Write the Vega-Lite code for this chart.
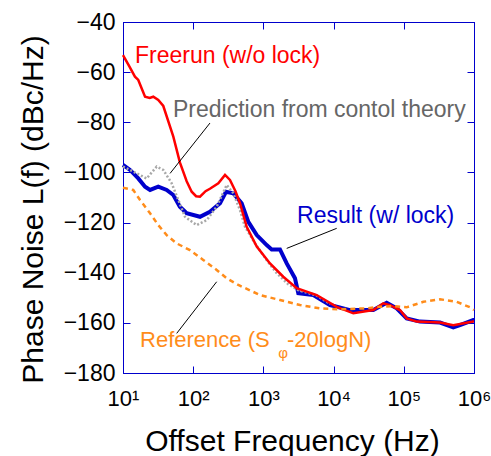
{
  "$schema": "https://vega.github.io/schema/vega-lite/v6.json",
  "width": 351,
  "height": 351,
  "autosize": {"type": "none"},
  "padding": {"left": 123, "top": 22, "right": 17, "bottom": 83},
  "background": "white",
  "config": {
    "font": "Liberation Sans",
    "view": {"stroke": "#0000cc", "strokeWidth": 1},
    "axis": {
      "grid": false,
      "domainColor": "#0000cc",
      "tickColor": "#0000cc",
      "labelColor": "black",
      "titleColor": "black",
      "labelFont": "Liberation Sans",
      "titleFont": "Liberation Sans",
      "titleFontWeight": "normal"
    }
  },
  "datasets": {
    "freerun": [
      {"f": 10, "pn": -53.2}, {"f": 12.2, "pn": -57.5}, {"f": 14.8, "pn": -61.8}, {"f": 16.5, "pn": -63.1},
      {"f": 20.6, "pn": -69.8}, {"f": 24, "pn": -70.3}, {"f": 27.0, "pn": -69.8}, {"f": 31.8, "pn": -71.1},
      {"f": 37.5, "pn": -73.5}, {"f": 52.1, "pn": -85.7}, {"f": 64.6, "pn": -96},
      {"f": 80.7, "pn": -103.5}, {"f": 95.1, "pn": -107.7}, {"f": 110, "pn": -109.5}, {"f": 125, "pn": -109.7},
      {"f": 150, "pn": -107.5}, {"f": 173, "pn": -106.5}, {"f": 228, "pn": -104.3}, {"f": 284, "pn": -101},
      {"f": 334, "pn": -103}, {"f": 400, "pn": -107.5}, {"f": 464, "pn": -112.3}, {"f": 578, "pn": -121.7},
      {"f": 804, "pn": -129.6}, {"f": 1242, "pn": -136.3}, {"f": 1919, "pn": -141.6},
      {"f": 2979, "pn": -146.2}, {"f": 5741, "pn": -148.9}, {"f": 11066, "pn": -153.6},
      {"f": 19099, "pn": -156.2}, {"f": 36813, "pn": -154.9}, {"f": 51050, "pn": -152.2},
      {"f": 63533, "pn": -152.9}, {"f": 88308, "pn": -154.9}, {"f": 109901, "pn": -158.2},
      {"f": 152757, "pn": -159.5}, {"f": 328095, "pn": -159.9}, {"f": 506991, "pn": -160.9},
      {"f": 977237, "pn": -159.5}, {"f": 1000000, "pn": -159.5}
    ],
    "result": [
      {"f": 10, "pn": -97}, {"f": 12.6, "pn": -99}, {"f": 16.5, "pn": -102.4}, {"f": 20.6, "pn": -105.7},
      {"f": 24.3, "pn": -107}, {"f": 31.8, "pn": -105.7}, {"f": 41.9, "pn": -107}, {"f": 52.1, "pn": -109},
      {"f": 64.6, "pn": -113.7}, {"f": 80.7, "pn": -116.3}, {"f": 125, "pn": -117.7}, {"f": 173, "pn": -115.7},
      {"f": 241, "pn": -112.3}, {"f": 293, "pn": -107.7}, {"f": 372, "pn": -108.3}, {"f": 490, "pn": -112.3},
      {"f": 610, "pn": -119.7}, {"f": 804, "pn": -125}, {"f": 1114, "pn": -129}, {"f": 1312, "pn": -130.7},
      {"f": 1722, "pn": -130.7}, {"f": 2148, "pn": -136.3}, {"f": 2818, "pn": -142.2}, {"f": 3141, "pn": -148.2},
      {"f": 5140, "pn": -148.9}, {"f": 8892, "pn": -152.9}, {"f": 17140, "pn": -154.9}, {"f": 36813, "pn": -154.9},
      {"f": 57016, "pn": -152}, {"f": 79250, "pn": -154.2}, {"f": 109901, "pn": -158.2}, {"f": 170216, "pn": -159.5},
      {"f": 328095, "pn": -159.9}, {"f": 506991, "pn": -161.8}, {"f": 630957, "pn": -160.9},
      {"f": 977237, "pn": -158.9}, {"f": 1000000, "pn": -158.9}
    ],
    "prediction": [
      {"f": 10, "pn": -97.7}, {"f": 12.6, "pn": -99}, {"f": 15.7, "pn": -100.4}, {"f": 21.7, "pn": -102.4},
      {"f": 30.2, "pn": -97.7}, {"f": 37.5, "pn": -99}, {"f": 49.3, "pn": -104.3}, {"f": 61.4, "pn": -111},
      {"f": 76.4, "pn": -117.7}, {"f": 112, "pn": -121}, {"f": 156, "pn": -119}, {"f": 216, "pn": -113.7},
      {"f": 300, "pn": -105}, {"f": 372, "pn": -108.3}, {"f": 464, "pn": -115}, {"f": 547, "pn": -121.7},
      {"f": 759, "pn": -128.3}, {"f": 1114, "pn": -135}, {"f": 1545, "pn": -140.2}, {"f": 2239, "pn": -144.5},
      {"f": 3162, "pn": -147}, {"f": 5623, "pn": -149}, {"f": 9000, "pn": -152.5}
    ],
    "reference": [
      {"f": 10, "pn": -106.1}, {"f": 14.0, "pn": -107}, {"f": 17.5, "pn": -111}, {"f": 24.3, "pn": -116.3},
      {"f": 31.8, "pn": -121}, {"f": 41.9, "pn": -125}, {"f": 58.1, "pn": -128.3}, {"f": 89.9, "pn": -131},
      {"f": 139, "pn": -134.9}, {"f": 216, "pn": -138.9}, {"f": 300, "pn": -142.2}, {"f": 440, "pn": -144.9},
      {"f": 895, "pn": -148.9}, {"f": 1722, "pn": -150.9}, {"f": 3319, "pn": -152.9}, {"f": 6397, "pn": -154.2},
      {"f": 12331, "pn": -154.6}, {"f": 29512, "pn": -154.2}, {"f": 45709, "pn": -153.6}, {"f": 70795, "pn": -153.3},
      {"f": 109901, "pn": -153.8}, {"f": 189671, "pn": -151.6}, {"f": 328095, "pn": -150.6}, {"f": 567545, "pn": -151.6},
      {"f": 877000, "pn": -153.8}, {"f": 1000000, "pn": -154.9}
    ],
    "leaders": [
      {"f1": 173.4, "v1": -80.3, "f2": 46.8, "v2": -100.4},
      {"f1": 11066, "v1": -122.3, "f2": 2148, "v2": -130.3},
      {"f1": 216, "v1": -143.6, "f2": 58.2, "v2": -164.2}
    ]
  },
  "resolve": {"axis": {"x": "independent", "y": "independent"}},
  "layer": [
    {
      "data": {"name": "result"},
      "mark": {"type": "line", "color": "#0000cc", "strokeWidth": 4, "interpolate": "linear"},
      "encoding": {
        "x": {
          "field": "f", "type": "quantitative",
          "scale": {"type": "log", "domain": [10, 1000000], "nice": false},
          "axis": {
            "orient": "bottom",
            "values": [10, 100, 1000, 10000, 100000, 1000000],
            "labelExpr": "'10' + ['⁰','¹','²','³','⁴','⁵','⁶'][round(log(datum.value)/LN10)]",
            "labelFontSize": 22,
            "tickSize": -7,
            "labelPadding": 22,
            "labelFlush": false,
            "labelOverlap": false,
            "title": "Offset Frequency (Hz)",
            "titleFontSize": 30,
            "titleX": 169,
            "titleY": 77,
            "titleAlign": "center",
            "titleBaseline": "alphabetic"
          }
        },
        "y": {
          "field": "pn", "type": "quantitative",
          "scale": {"domain": [-180, -40], "nice": false, "zero": false},
          "axis": {
            "orient": "left",
            "values": [-180, -160, -140, -120, -100, -80, -60, -40],
            "labelFontSize": 23,
            "tickSize": -7,
            "labelPadding": 15,
            "labelOverlap": false,
            "labelFlush": false,
            "title": "Phase Noise L(f) (dBc/Hz)",
            "titleFontSize": 30,
            "titleAngle": -90,
            "titleX": -81,
            "titleY": 187,
            "titleAlign": "center",
            "titleBaseline": "alphabetic"
          }
        }
      }
    },
    {
      "data": {"name": "prediction"},
      "mark": {"type": "line", "color": "#a8a8a8", "strokeWidth": 2.5, "strokeDash": [2, 2]},
      "encoding": {
        "x": {"field": "f", "type": "quantitative", "axis": null},
        "y": {"field": "pn", "type": "quantitative", "axis": null}
      }
    },
    {
      "data": {"name": "freerun"},
      "mark": {"type": "line", "color": "#ff0000", "strokeWidth": 2.5},
      "encoding": {
        "x": {"field": "f", "type": "quantitative", "axis": null},
        "y": {"field": "pn", "type": "quantitative", "axis": null}
      }
    },
    {
      "data": {"name": "reference"},
      "mark": {"type": "line", "color": "#ff8c1a", "strokeWidth": 2.5, "strokeDash": [5, 4]},
      "encoding": {
        "x": {"field": "f", "type": "quantitative", "axis": null},
        "y": {"field": "pn", "type": "quantitative", "axis": null}
      }
    },
    {
      "data": {"name": "leaders"},
      "mark": {"type": "rule", "color": "black", "strokeWidth": 1},
      "encoding": {
        "x": {"field": "f1", "type": "quantitative", "axis": null},
        "y": {"field": "v1", "type": "quantitative", "axis": null},
        "x2": {"field": "f2"},
        "y2": {"field": "v2"}
      }
    },
    {
      "data": {"values": [
        {"f": 14.8, "v": -56.4, "label": "Freerun (w/o lock)", "series": "freerun"},
        {"f": 51.5, "v": -77.9, "label": "Prediction from contol theory", "series": "prediction"},
        {"f": 3013, "v": -120.2, "label": "Result (w/ lock)", "series": "result"}
      ]},
      "mark": {"type": "text", "align": "left", "baseline": "alphabetic", "fontSize": 23, "font": "Liberation Sans"},
      "encoding": {
        "x": {"field": "f", "type": "quantitative", "axis": null},
        "y": {"field": "v", "type": "quantitative", "axis": null},
        "text": {"field": "label"},
        "color": {
          "field": "series", "type": "nominal", "legend": null,
          "scale": {"domain": ["freerun", "prediction", "result"], "range": ["#ff0000", "#666666", "#0000cc"]}
        }
      }
    },
    {
      "data": {"values": [
        {"f": 17.5, "v": -169.6, "label": "Reference (S"},
        {"f": 2168, "v": -169.6, "label": "-20logN)"}
      ]},
      "mark": {"type": "text", "align": "left", "baseline": "alphabetic", "fontSize": 22, "font": "Liberation Sans", "color": "#ff8c1a"},
      "encoding": {
        "x": {"field": "f", "type": "quantitative", "axis": null},
        "y": {"field": "v", "type": "quantitative", "axis": null},
        "text": {"field": "label"}
      }
    },
    {
      "data": {"values": [{"f": 1901, "v": -174.0, "label": "φ"}]},
      "mark": {"type": "text", "align": "center", "baseline": "alphabetic", "fontSize": 15, "font": "Liberation Sans", "color": "#ff8c1a"},
      "encoding": {
        "x": {"field": "f", "type": "quantitative", "axis": null},
        "y": {"field": "v", "type": "quantitative", "axis": null},
        "text": {"field": "label"}
      }
    },
    {
      "data": {"values": [{"f": 10, "pn": -180}]},
      "mark": {"type": "point", "opacity": 0},
      "encoding": {
        "x": {
          "field": "f", "type": "quantitative",
          "axis": {"orient": "top", "values": [10, 100, 1000, 10000, 100000, 1000000], "labels": false, "tickSize": -7, "title": null}
        },
        "y": {
          "field": "pn", "type": "quantitative",
          "axis": {"orient": "right", "values": [-180, -160, -140, -120, -100, -80, -60, -40], "labels": false, "tickSize": -7, "title": null}
        }
      }
    }
  ]
}
